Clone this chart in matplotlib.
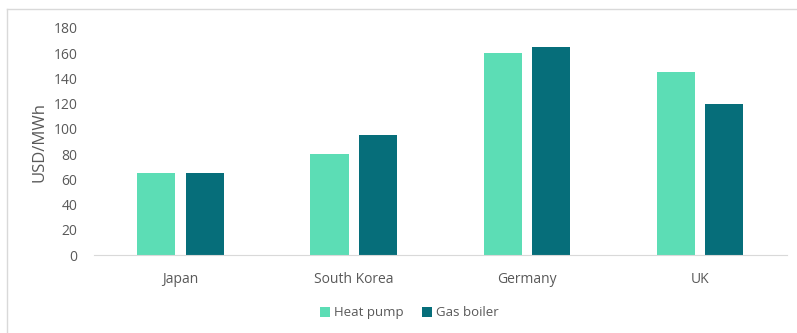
import matplotlib.pyplot as plt
import numpy as np

plt.rcParams['font.family'] = ['Open Sans', 'DejaVu Sans']

countries = ["Japan", "South Korea", "Germany", "UK"]
heat_pump = [65, 80, 160, 145]
gas_boiler = [65, 95, 165, 120]

text_color = "#595959"
hp_color = "#5CDDB5"
gb_color = "#066E7A"

fig = plt.figure(figsize=(7.97, 3.33), dpi=100)
ax = fig.add_axes([0.118, 0.234, 0.869, 0.682])

x = np.arange(len(countries))
w = 0.22
ax.bar(x - 0.14, heat_pump, w, color=hp_color, label="Heat pump")
ax.bar(x + 0.14, gas_boiler, w, color=gb_color, label="Gas boiler")

ax.set_xlim(-0.5, 3.5)
ax.set_ylim(0, 180)
ax.set_yticks(range(0, 181, 20))
ax.set_xticks(x)
ax.set_xticklabels(countries)
ax.tick_params(axis="both", length=0, colors=text_color, labelsize=10)
ax.tick_params(axis="y", pad=12)
ax.tick_params(axis="x", pad=12)
for s in ["top", "right", "left"]:
    ax.spines[s].set_visible(False)
ax.spines["bottom"].set_color("#d9d9d9")
ax.set_ylabel("USD/MWh", color=text_color, fontsize=12, labelpad=4)

ax.legend(loc="center", bbox_to_anchor=(0.455, -0.255), ncol=2, frameon=False,
          fontsize=9.5, labelcolor=text_color, handlelength=0.75,
          handleheight=0.75, handletextpad=0.3, columnspacing=1.4)

# outer frame (top and left edges)
fig.add_artist(plt.Line2D([7 / 797, 1], [1 - 9 / 333, 1 - 9 / 333],
                          transform=fig.transFigure, color="#d9d9d9", lw=1))
fig.add_artist(plt.Line2D([7 / 797, 7 / 797], [0, 1 - 9 / 333],
                          transform=fig.transFigure, color="#d9d9d9", lw=1))

fig.savefig("out.png", dpi=100)
